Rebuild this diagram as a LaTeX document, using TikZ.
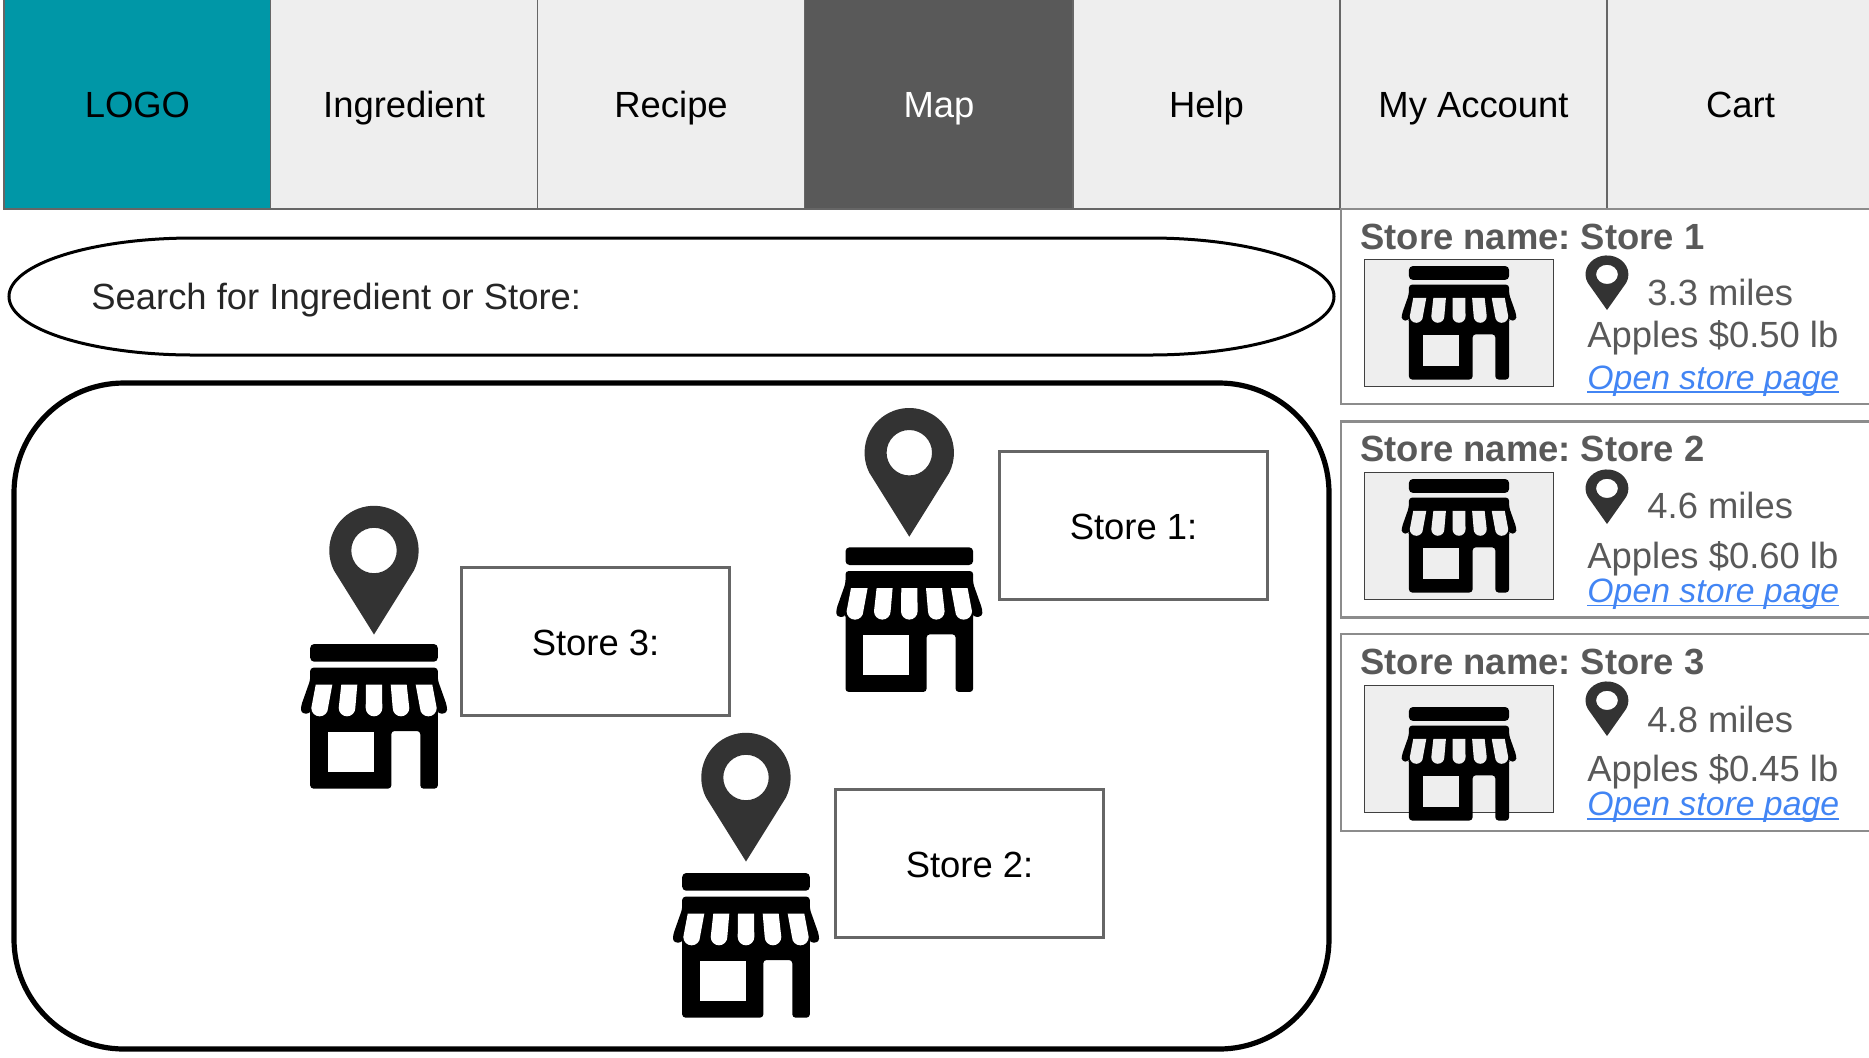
\documentclass[tikz,border=0pt]{standalone}
\usepackage{fontspec}
\setmainfont{Liberation Sans}
\frenchspacing
\definecolor{lteal}{HTML}{0097A7}
\definecolor{npale}{HTML}{EEEEEE}
\definecolor{ndark}{HTML}{595959}
\definecolor{nline}{HTML}{666666}
\definecolor{pline}{HTML}{8C8C8C}
\definecolor{pincol}{HTML}{333333}
\definecolor{lblue}{HTML}{4285F4}
\newcommand{\openlink}{\setbox0\hbox{\itshape Open store page}\rlap{\rule[-2pt]{\wd0}{.8pt}}\box0}
\newcommand{\basefont}{\fontsize{18.2}{21}\selectfont}
\tikzset{
  nav/.style={draw=nline,line width=.6pt,minimum height=105pt,inner sep=0pt,text height=14pt,text depth=1pt,font=\basefont},
  lab/.style={draw=nline,line width=1.75pt,fill=white,minimum width=134pt,minimum height=74pt,inner sep=0pt,text height=14.6pt,text depth=1pt,font=\basefont},
  panel/.style={draw=pline,line width=1.1pt,minimum width=280pt,inner sep=0pt},
  thumb/.style={draw=black!75,line width=.7pt,fill=npale,minimum width=94.5pt,minimum height=63.5pt,inner sep=0pt},
  txt/.style={anchor=base west,inner sep=0pt,text=ndark,font=\basefont},
  linktxt/.style={txt,text=lblue,font=\fontsize{16.9}{20}\selectfont},
  store/.pic={
    \fill[rounded corners=2pt] (-63.8,0) rectangle (63.8,17.7);
    \fill[rounded corners=1.6pt] (-63.8,23.7) -- (63.8,23.7) -- (63.8,36) -- (73,62) -- (73,69) -- (64.5,70) -- (63.8,66) -- (63.8,144.6) -- (46.3,144.6) -- (46.3,87) -- (17.3,87) -- (17.3,144.6) -- (-63.8,144.6) -- (-63.8,66) -- (-64.5,70) -- (-73,69) -- (-73,62) -- (-63.8,36) -- cycle;
    \fill[#1] (-46.3,87.7) rectangle (0,128);
    \fill[#1] (-41.7,40.7) -- (-46,64) arc[start angle=0,end angle=180,radius=8.35] -- (-58.3,40.7) -- cycle;
    \fill[#1] (-16.7,40.7) -- (-18.7,64) arc[start angle=0,end angle=180,radius=8.3] -- (-32.7,40.7) -- cycle;
    \fill[#1] (8,40.7) -- (8.3,64) arc[start angle=0,end angle=180,radius=8.3] -- (-8,40.7) -- cycle;
    \fill[#1] (32.7,40.7) -- (35.3,64) arc[start angle=0,end angle=180,radius=8.3] -- (16.7,40.7) -- cycle;
    \fill[#1] (58.3,40.7) -- (62.7,64) arc[start angle=0,end angle=180,radius=8.35] -- (41.7,40.7) -- cycle;
  },
  marker/.pic={
    \fill[pincol,even odd rule] (0,0) -- (-40,-64) arc[start angle=153.4,end angle=386.6,radius=44.7] -- cycle (0,-84) circle[radius=22.7];
  },
}
\begin{document}
\begin{tikzpicture}[x=.5pt,y=-.5pt]
\path[use as bounding box,clip] (0,0) rectangle (1869,1057);
\node[nav,fill=lteal,minimum width=133.5pt] (logo) at (137.4,104) {LOGO};
\node[nav,fill=npale,minimum width=133.5pt] (ingredient) at (404.1,104) {Ingredient};
\node[nav,fill=npale,minimum width=133.5pt] (recipe) at (671.1,104) {Recipe};
\node[nav,fill=ndark,text=white,minimum width=134.5pt] (map) at (939,104) {Map};
\node[nav,fill=npale,minimum width=133.5pt] (help) at (1206.5,104) {Help};
\node[nav,fill=npale,minimum width=133.5pt] (account) at (1473.5,104) {My Account};
\node[nav,fill=npale,minimum width=133.5pt] (cart) at (1740.5,104) {Cart};
\draw[line width=1.5pt] (193,238) -- (1150,238) arc[start angle=270,end angle=450,x radius=184,y radius=58.5] -- (193,355) arc[start angle=90,end angle=270,x radius=184,y radius=58.5] -- cycle;
\node[txt,text=black!85] (search) at (91,309) {Search for Ingredient or Store:};
\node[draw,line width=2.6pt,rounded corners=55pt,minimum width=657.5pt,minimum height=333pt,inner sep=0pt] (mapbox) at (671.5,716) {};
\pic at (909.3,547.3) {store=white};
\pic at (909.3,536.7) {marker};
\pic at (374,644) {store=white};
\pic at (374,634.5) {marker};
\pic at (746,873) {store=white};
\pic at (746,861.5) {marker};
\node[lab] (lab1) at (1133.5,525.5) {Store 1:};
\node[lab] (lab3) at (595.5,641.5) {Store 3:};
\node[lab] (lab2) at (969.5,863.5) {Store 2:};
\node[panel,minimum height=97.5pt] (panel1) at (1621,306.5) {};
\node[panel,minimum height=98pt] (panel2) at (1621,519.5) {};
\node[panel,minimum height=98.5pt] (panel3) at (1621,732.5) {};
\node[thumb] (thumb1) at (1459,323) {};
\node[thumb] (thumb2) at (1459,536) {};
\node[thumb] (thumb3) at (1459,749) {};
\pic[scale=.785] at (1459,266) {store=npale};
\pic[scale=.785] at (1459,479) {store=npale};
\pic[scale=.785] at (1459,707) {store=npale};
\pic[xscale=.48,yscale=.424] at (1607,310) {marker};
\pic[xscale=.48,yscale=.424] at (1607,524) {marker};
\pic[xscale=.48,yscale=.424] at (1607,736) {marker};
\node[txt,font=\basefont\bfseries] (name1) at (1360,249.5) {Store name: Store 1};
\node[txt,font=\basefont\bfseries] (name2) at (1360,461.7) {Store name: Store 2};
\node[txt,font=\basefont\bfseries] (name3) at (1360,674.8) {Store name: Store 3};
\node[txt] (miles1) at (1647,305.5) {3.3 miles};
\node[txt] (miles2) at (1647,518.5) {4.6 miles};
\node[txt] (miles3) at (1647,732) {4.8 miles};
\node[txt] (price1) at (1587,347) {Apples \$0.50 lb};
\node[txt] (price2) at (1587,568) {Apples \$0.60 lb};
\node[txt] (price3) at (1587,781) {Apples \$0.45 lb};
\node[linktxt] (link1) at (1587,389) {\openlink};
\node[linktxt] (link2) at (1587,602.4) {\openlink};
\node[linktxt] (link3) at (1587,815.5) {\openlink};
\end{tikzpicture}
\end{document}
